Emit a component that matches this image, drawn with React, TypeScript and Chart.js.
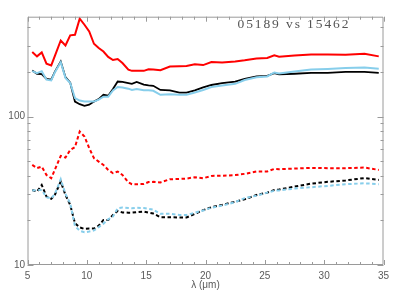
import React, { useEffect, useRef } from "react";
import { Chart, registerables } from "chart.js";

Chart.register(...registerables);

const wavelengths = [5.4, 5.8, 6.2, 6.6, 7.0, 7.3, 7.8, 8.2, 8.6, 9.0, 9.4, 9.8, 10.2, 10.6, 11.0, 11.4, 11.8, 12.2, 12.6, 13.0, 13.5, 13.8, 14.2, 14.8, 15.2, 15.6, 16.2, 17.0, 17.8, 18.4, 19.1, 19.8, 20.5, 21.4, 22.5, 23.3, 24.3, 25.2, 25.8, 26.2, 27.5, 28.9, 30.3, 31.8, 33.4, 34.6];

const redSolid = [272, 254, 270, 227, 221, 255, 325, 301, 352, 355, 456, 415, 374, 309, 289, 274, 252, 240, 244, 229, 207, 203, 203, 203, 208, 207, 205, 217, 218, 219, 225, 222, 233, 231, 235, 239, 246, 248, 258, 253, 258, 262, 262, 261, 265, 254];
const blackSolid = [204, 194, 193, 179, 177, 200, 235, 184, 169, 126, 121, 118, 120, 126, 131, 140, 138, 153, 172, 171, 168, 166, 171, 164, 162, 161, 151, 150, 145, 145, 150, 157, 163, 168, 172, 179, 186, 188, 196, 192, 194, 197, 197, 200, 200, 197];
const blueSolid = [202, 196, 202, 177, 175, 198, 232, 182, 168, 133, 128, 126, 126, 126, 130, 136, 136, 150, 158, 157, 154, 151, 153, 150, 150, 149, 140, 141, 140, 140, 145, 151, 158, 162, 166, 176, 184, 186, 198, 195, 201, 207, 209, 212, 214, 210];
const redDashed = [47.2, 44.9, 46, 40.4, 38.4, 43.7, 54.3, 52.9, 59.6, 62.2, 79.2, 73.3, 61.2, 52.4, 49.7, 47.2, 43.7, 41.5, 42.6, 40.4, 36.1, 35, 35, 35.1, 36.2, 36.3, 36, 37.8, 38, 38.2, 39, 38.4, 39.8, 39.9, 40.3, 41.1, 42.6, 42.6, 44.4, 44.2, 44.6, 45.1, 44.9, 44.9, 45.3, 43.7];
const blackDashed = [32, 31.2, 34.6, 28.9, 27.9, 29.6, 36.5, 29.6, 25.4, 19.1, 17.9, 17.5, 17.6, 17.6, 18.4, 20.1, 20.1, 21.7, 23.1, 22.6, 22.5, 22.5, 22.7, 22.9, 22.5, 22.2, 21, 21, 20.9, 20.9, 22.1, 23.4, 24.5, 25.4, 26.7, 27.7, 29.6, 30.7, 32, 32.2, 33.7, 35.3, 36.3, 37.1, 38.5, 37.4];
const blueDashed = [31.7, 32, 32, 28.6, 28.1, 30, 37.8, 30.1, 26, 18.3, 17, 16.6, 16.8, 17.1, 18, 19, 20.3, 21.2, 24.1, 24.4, 24.2, 24.1, 24.3, 24.2, 23.9, 23.6, 22.1, 22.1, 21.7, 21.7, 22.5, 23.3, 24.3, 25.1, 26.5, 28.2, 29.3, 30.7, 31.6, 31.8, 32.7, 33.4, 34.1, 35, 35.5, 35];

const xTickValues = [5, 10, 15, 20, 25, 30, 35];
const yLabelValues = [10, 100];
const titleText = "05189 vs 15462";
const xTitle = "λ (μm)";

const AXIS_COLOR = "#9a9a9a";
const TEXT_COLOR = "#5a5a5a";

function pts(ys: number[]) {
  return ys.map((y, i) => ({ x: wavelengths[i], y }));
}

const framePlugin = {
  id: "frameTicks",
  afterDraw(chart: any) {
    const { ctx, chartArea } = chart;
    const { left, right, top, bottom } = chartArea;
    const xs = chart.scales.x;
    const ys = chart.scales.y;
    ctx.save();
    ctx.strokeStyle = AXIS_COLOR;
    ctx.lineWidth = 1;
    ctx.beginPath();
    ctx.rect(left + 0.5, top + 0.5, right - left - 1, bottom - top - 1);
    ctx.stroke();
    ctx.beginPath();
    for (let v = 5; v <= 35; v += 1) {
      const px = Math.round(xs.getPixelForValue(v)) + 0.5;
      const len = v % 5 === 0 ? 5 : 3;
      ctx.moveTo(px, bottom);
      ctx.lineTo(px, bottom - len);
      ctx.moveTo(px, top);
      ctx.lineTo(px, top + len);
    }
    const yVals: number[] = [];
    for (let d = 10; d <= 1000; d *= 10) {
      for (let m = 1; m <= 9; m++) yVals.push(m * d);
    }
    yVals.forEach((v) => {
      if (v < ys.min || v > ys.max) return;
      const py = Math.round(ys.getPixelForValue(v)) + 0.5;
      const len = yLabelValues.includes(v) ? 6 : 3;
      ctx.moveTo(left, py);
      ctx.lineTo(left + len, py);
      ctx.moveTo(right, py);
      ctx.lineTo(right - len, py);
    });
    ctx.stroke();
    ctx.fillStyle = "#555555";
    ctx.font = "13.5px 'Liberation Serif', serif";
    (ctx as any).letterSpacing = "1.9px";
    ctx.textAlign = "left";
    ctx.textBaseline = "middle";
    ctx.fillText(titleText, 237.5, 24);
    ctx.restore();
  },
};

export default function App() {
  const ref = useRef<HTMLCanvasElement | null>(null);
  useEffect(() => {
    document.body.style.margin = "0";
    const lineDs = (label: string, data: number[], color: string, dashed: boolean, w: number) => ({
      label,
      data: pts(data),
      borderColor: color,
      backgroundColor: color,
      borderWidth: w,
      borderDash: dashed ? [3.5, 2.5] : [],
      pointRadius: 0,
      tension: 0,
      fill: false,
    });
    const chart = new Chart(ref.current as HTMLCanvasElement, {
      type: "line",
      data: {
        datasets: [
          lineDs("blue dashed", blueDashed, "#87ceeb", true, 2),
          lineDs("black dashed", blackDashed, "#000000", true, 2),
          lineDs("red dashed", redDashed, "#ff0000", true, 2),
          lineDs("blue", blueSolid, "#87ceeb", false, 2),
          lineDs("black", blackSolid, "#000000", false, 1.8),
          lineDs("red", redSolid, "#ff0000", false, 2),
        ],
      },
      options: {
        animation: false,
        responsive: false,
        maintainAspectRatio: false,
        layout: { padding: { left: 0, right: 11.5, top: 16.7, bottom: 0 } },
        plugins: { legend: { display: false }, tooltip: { enabled: false }, title: { display: false } },
        scales: {
          x: {
            type: "linear",
            min: 5,
            max: 35,
            grid: { display: false, drawTicks: false },
            border: { display: false },
            afterFit: (s: any) => { s.height = 26; },
            afterBuildTicks: (s: any) => { s.ticks = xTickValues.map((v) => ({ value: v })); },
            ticks: {
              color: TEXT_COLOR,
              font: { family: "'Liberation Sans', Arial, sans-serif", size: 10 },
              padding: 5,
              maxRotation: 0,
              autoSkip: false,
            },
            title: {
              display: true,
              text: xTitle,
              color: TEXT_COLOR,
              font: { family: "'Liberation Sans', Arial, sans-serif", size: 10 },
              padding: { top: 0, bottom: 0 },
            },
          },
          y: {
            type: "logarithmic",
            min: 10,
            max: 470,
            grid: { display: false, drawTicks: false },
            border: { display: false },
            afterFit: (s: any) => { s.width = 27.5; },
            afterBuildTicks: (s: any) => { s.ticks = yLabelValues.map((v) => ({ value: v })); },
            ticks: {
              color: TEXT_COLOR,
              font: { family: "'Liberation Sans', Arial, sans-serif", size: 10 },
              padding: 2.5,
              autoSkip: false,
              callback: (v: any) => String(v),
            },
          },
        },
      },
      plugins: [framePlugin],
    });
    return () => chart.destroy();
  }, []);
  return (
    <div style={{ position: "absolute", left: 0, top: 0, width: 395, height: 291 }}>
      <canvas ref={ref} width={395} height={291} style={{ width: 395, height: 291 }} />
    </div>
  );
}
